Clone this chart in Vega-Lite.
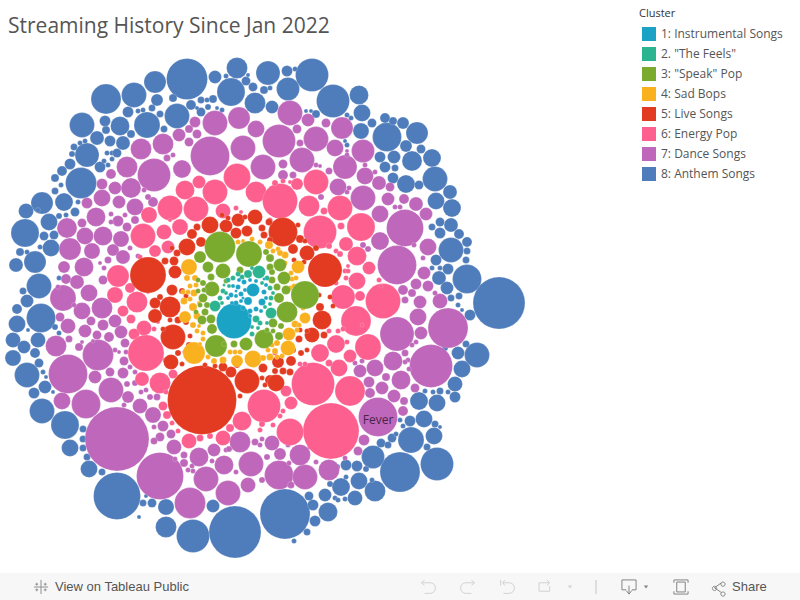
{"$schema":"https://vega.github.io/schema/vega-lite/v6.json","width":800,"height":600,"padding":0,"autosize":"none","background":"white",
"title":{"text":"Streaming History Since Jan 2022","anchor":"start","frame":"group","dx":8,"offset":-37,"fontSize":21,"font":"Open Sans","fontWeight":"normal","color":"#555555"},
"config":{"view":{"stroke":null}},
"datasets":{"chrome":[{"id":1}],"songs":[
{"x":187,"y":79,"d":41,"c":8},{"x":237,"y":68,"d":21,"c":8},{"x":215,"y":77,"d":13,"c":8},{"x":155,"y":82,"d":22,"c":8},{"x":134,"y":95,"d":25,"c":8},{"x":106,"y":99,"d":30,"c":8},{"x":157,"y":100,"d":12,"c":8},{"x":231,"y":92,"d":28,"c":8},{"x":255,"y":103,"d":21,"c":8},{"x":268,"y":73,"d":24,"c":8},{"x":177,"y":116,"d":25,"c":8},{"x":147,"y":125,"d":26,"c":8},{"x":82,"y":125,"d":25,"c":8},{"x":120,"y":126,"d":19,"c":8},{"x":128,"y":112,"d":11,"c":8},{"x":105,"y":121,"d":11,"c":8},{"x":106,"y":130,"d":8,"c":8},{"x":97,"y":138,"d":14,"c":8},{"x":110,"y":141,"d":11,"c":8},{"x":123,"y":143,"d":14,"c":8},{"x":87,"y":155,"d":24,"c":8},{"x":81,"y":183,"d":31,"c":8},{"x":100,"y":167,"d":11,"c":8},{"x":70,"y":164,"d":11,"c":8},{"x":62,"y":171,"d":10,"c":8},{"x":42,"y":203,"d":22,"c":8},{"x":64,"y":202,"d":18,"c":8},{"x":26,"y":211,"d":15,"c":8},{"x":49,"y":222,"d":17,"c":8},{"x":25,"y":233,"d":28,"c":8},{"x":51,"y":248,"d":17,"c":8},{"x":44,"y":236,"d":9,"c":8},{"x":54,"y":235,"d":9,"c":8},{"x":35,"y":262,"d":22,"c":8},{"x":16,"y":265,"d":14,"c":8},{"x":39,"y":286,"d":25,"c":8},{"x":27,"y":301,"d":13,"c":8},{"x":17,"y":309,"d":10,"c":8},{"x":41,"y":318,"d":29,"c":8},{"x":17,"y":324,"d":17,"c":8},{"x":13,"y":340,"d":15,"c":8},{"x":38,"y":340,"d":15,"c":8},{"x":24,"y":347,"d":13,"c":8},{"x":13,"y":358,"d":16,"c":8},{"x":27,"y":375,"d":25,"c":8},{"x":35,"y":353,"d":10,"c":8},{"x":39,"y":363,"d":9,"c":8},{"x":45,"y":387,"d":13,"c":8},{"x":34,"y":393,"d":11,"c":8},{"x":42,"y":411,"d":25,"c":8},{"x":65,"y":425,"d":28,"c":8},{"x":70,"y":448,"d":17,"c":8},{"x":89,"y":469,"d":17,"c":8},{"x":117,"y":496,"d":47,"c":8},{"x":102,"y":472,"d":7,"c":8},{"x":83,"y":439,"d":7,"c":8},{"x":83,"y":429,"d":7,"c":8},{"x":87,"y":457,"d":7,"c":8},{"x":83,"y":448,"d":7,"c":8},{"x":152,"y":503,"d":9,"c":8},{"x":143,"y":503,"d":7,"c":8},{"x":166,"y":507,"d":16,"c":8},{"x":213,"y":506,"d":13,"c":8},{"x":166,"y":527,"d":21,"c":8},{"x":193,"y":536,"d":33,"c":8},{"x":235,"y":532,"d":52,"c":8},{"x":285,"y":514,"d":50,"c":8},{"x":328,"y":512,"d":19,"c":8},{"x":315,"y":521,"d":11,"c":8},{"x":313,"y":505,"d":11,"c":8},{"x":309,"y":496,"d":9,"c":8},{"x":325,"y":495,"d":13,"c":8},{"x":341,"y":487,"d":18,"c":8},{"x":359,"y":481,"d":17,"c":8},{"x":355,"y":498,"d":15,"c":8},{"x":375,"y":491,"d":21,"c":8},{"x":400,"y":472,"d":40,"c":8},{"x":437,"y":464,"d":33,"c":8},{"x":373,"y":457,"d":23,"c":8},{"x":346,"y":465,"d":11,"c":8},{"x":357,"y":466,"d":11,"c":8},{"x":411,"y":440,"d":26,"c":8},{"x":434,"y":436,"d":17,"c":8},{"x":424,"y":419,"d":17,"c":8},{"x":410,"y":421,"d":11,"c":8},{"x":419,"y":401,"d":18,"c":8},{"x":437,"y":403,"d":17,"c":8},{"x":392,"y":438,"d":9,"c":8},{"x":381,"y":443,"d":9,"c":8},{"x":388,"y":445,"d":7,"c":8},{"x":427,"y":447,"d":7,"c":8},{"x":435,"y":424,"d":7,"c":8},{"x":455,"y":397,"d":11,"c":8},{"x":455,"y":384,"d":15,"c":8},{"x":462,"y":369,"d":17,"c":8},{"x":458,"y":353,"d":13,"c":8},{"x":477,"y":355,"d":25,"c":8},{"x":466,"y":344,"d":7,"c":8},{"x":470,"y":315,"d":11,"c":8},{"x":440,"y":391,"d":7,"c":8},{"x":499,"y":303,"d":52,"c":8},{"x":307,"y":532,"d":7,"c":8},{"x":294,"y":541,"d":5,"c":8},{"x":312,"y":75,"d":33,"c":8},{"x":333,"y":101,"d":33,"c":8},{"x":287,"y":71,"d":11,"c":8},{"x":288,"y":89,"d":23,"c":8},{"x":359,"y":95,"d":19,"c":8},{"x":362,"y":113,"d":17,"c":8},{"x":361,"y":131,"d":16,"c":8},{"x":387,"y":137,"d":29,"c":8},{"x":417,"y":133,"d":22,"c":8},{"x":385,"y":118,"d":10,"c":8},{"x":393,"y":121,"d":8,"c":8},{"x":403,"y":123,"d":12,"c":8},{"x":372,"y":123,"d":9,"c":8},{"x":316,"y":114,"d":8,"c":8},{"x":272,"y":107,"d":13,"c":8},{"x":406,"y":146,"d":12,"c":8},{"x":421,"y":149,"d":9,"c":8},{"x":432,"y":158,"d":18,"c":8},{"x":412,"y":161,"d":20,"c":8},{"x":394,"y":157,"d":13,"c":8},{"x":380,"y":157,"d":11,"c":8},{"x":385,"y":167,"d":11,"c":8},{"x":395,"y":168,"d":7,"c":8},{"x":393,"y":178,"d":11,"c":8},{"x":406,"y":184,"d":18,"c":8},{"x":419,"y":185,"d":9,"c":8},{"x":435,"y":179,"d":25,"c":8},{"x":450,"y":192,"d":14,"c":8},{"x":436,"y":201,"d":17,"c":8},{"x":452,"y":208,"d":18,"c":8},{"x":451,"y":225,"d":14,"c":8},{"x":440,"y":222,"d":9,"c":8},{"x":432,"y":227,"d":7,"c":8},{"x":440,"y":233,"d":11,"c":8},{"x":459,"y":234,"d":10,"c":8},{"x":467,"y":242,"d":10,"c":8},{"x":467,"y":251,"d":7,"c":8},{"x":451,"y":250,"d":25,"c":8},{"x":466,"y":260,"d":7,"c":8},{"x":436,"y":260,"d":11,"c":8},{"x":448,"y":269,"d":11,"c":8},{"x":467,"y":279,"d":29,"c":8},{"x":439,"y":278,"d":14,"c":8},{"x":447,"y":288,"d":13,"c":8},{"x":459,"y":296,"d":7,"c":8},{"x":451,"y":298,"d":7,"c":8},{"x":432,"y":268,"d":5,"c":8},{"x":440,"y":268,"d":5,"c":8},{"x":295,"y":69,"d":5,"c":8},{"x":347,"y":145,"d":5,"c":8},{"x":345,"y":141,"d":4,"c":8},{"x":351,"y":118,"d":5,"c":8},{"x":347,"y":115,"d":5,"c":8},{"x":306,"y":111,"d":4,"c":8},{"x":311,"y":111,"d":4,"c":8},{"x":191,"y":105,"d":10,"c":8},{"x":201,"y":112,"d":9,"c":8},{"x":201,"y":100,"d":7,"c":8},{"x":173,"y":98,"d":8,"c":8},{"x":160,"y":114,"d":7,"c":8},{"x":152,"y":108,"d":7,"c":8},{"x":143,"y":110,"d":5,"c":8},{"x":138,"y":111,"d":5,"c":8},{"x":131,"y":134,"d":8,"c":8},{"x":164,"y":129,"d":7,"c":8},{"x":74,"y":147,"d":7,"c":8},{"x":72,"y":154,"d":6,"c":8},{"x":85,"y":141,"d":5,"c":8},{"x":80,"y":143,"d":5,"c":8},{"x":107,"y":153,"d":5,"c":8},{"x":112,"y":153,"d":5,"c":8},{"x":117,"y":153,"d":9,"c":8},{"x":104,"y":161,"d":5,"c":8},{"x":108,"y":165,"d":5,"c":8},{"x":112,"y":159,"d":5,"c":8},{"x":55,"y":178,"d":8,"c":8},{"x":61,"y":185,"d":5,"c":8},{"x":55,"y":191,"d":7,"c":8},{"x":78,"y":202,"d":5,"c":8},{"x":75,"y":212,"d":9,"c":8},{"x":66,"y":215,"d":5,"c":8},{"x":59,"y":216,"d":6,"c":8},{"x":38,"y":210,"d":5,"c":8},{"x":40,"y":247,"d":5,"c":8},{"x":20,"y":252,"d":8,"c":8},{"x":27,"y":252,"d":5,"c":8},{"x":59,"y":278,"d":5,"c":8},{"x":23,"y":291,"d":7,"c":8},{"x":213,"y":99,"d":8,"c":8},{"x":226,"y":76,"d":5,"c":8},{"x":246,"y":81,"d":9,"c":8},{"x":253,"y":87,"d":9,"c":8},{"x":264,"y":90,"d":8,"c":8},{"x":270,"y":88,"d":5,"c":8},{"x":208,"y":107,"d":6,"c":8},{"x":217,"y":108,"d":4,"c":8},{"x":222,"y":110,"d":5,"c":8},{"x":248,"y":75,"d":4,"c":8},{"x":197,"y":108,"d":4,"c":8},{"x":207,"y":100,"d":5,"c":8},{"x":139,"y":517,"d":4,"c":8},{"x":146,"y":496,"d":4,"c":8},{"x":53,"y":392,"d":4,"c":8},{"x":43,"y":372,"d":5,"c":8},{"x":46,"y":377,"d":4,"c":8},{"x":28,"y":330,"d":4,"c":8},{"x":59,"y":333,"d":5,"c":8},{"x":55,"y":327,"d":6,"c":8},{"x":335,"y":498,"d":5,"c":8},{"x":338,"y":500,"d":5,"c":8},{"x":345,"y":499,"d":5,"c":8},{"x":366,"y":469,"d":6,"c":8},{"x":396,"y":434,"d":5,"c":8},{"x":403,"y":426,"d":5,"c":8},{"x":400,"y":420,"d":5,"c":8},{"x":372,"y":480,"d":5,"c":8},{"x":346,"y":477,"d":5,"c":8},{"x":330,"y":484,"d":6,"c":8},{"x":337,"y":467,"d":6,"c":8},{"x":357,"y":452,"d":4,"c":8},{"x":440,"y":427,"d":4,"c":8},{"x":448,"y":392,"d":5,"c":8},{"x":433,"y":392,"d":5,"c":8},{"x":425,"y":391,"d":5,"c":8},{"x":445,"y":348,"d":6,"c":8},{"x":458,"y":305,"d":5,"c":8},{"x":462,"y":310,"d":4,"c":8},
{"x":215,"y":123,"d":25,"c":7},{"x":239,"y":118,"d":22,"c":7},{"x":256,"y":129,"d":17,"c":7},{"x":195,"y":122,"d":11,"c":7},{"x":179,"y":135,"d":13,"c":7},{"x":189,"y":129,"d":8,"c":7},{"x":189,"y":142,"d":9,"c":7},{"x":197,"y":134,"d":9,"c":7},{"x":163,"y":144,"d":21,"c":7},{"x":141,"y":149,"d":21,"c":7},{"x":210,"y":156,"d":39,"c":7},{"x":243,"y":148,"d":25,"c":7},{"x":127,"y":167,"d":21,"c":7},{"x":154,"y":175,"d":33,"c":7},{"x":182,"y":169,"d":18,"c":7},{"x":263,"y":167,"d":25,"c":7},{"x":167,"y":158,"d":7,"c":7},{"x":173,"y":155,"d":5,"c":7},{"x":111,"y":174,"d":10,"c":7},{"x":102,"y":184,"d":11,"c":7},{"x":115,"y":188,"d":13,"c":7},{"x":131,"y":188,"d":20,"c":7},{"x":102,"y":198,"d":17,"c":7},{"x":87,"y":203,"d":11,"c":7},{"x":119,"y":202,"d":13,"c":7},{"x":135,"y":207,"d":17,"c":7},{"x":153,"y":202,"d":10,"c":7},{"x":96,"y":217,"d":19,"c":7},{"x":82,"y":223,"d":9,"c":7},{"x":118,"y":221,"d":11,"c":7},{"x":127,"y":227,"d":9,"c":7},{"x":135,"y":220,"d":8,"c":7},{"x":67,"y":228,"d":20,"c":7},{"x":85,"y":236,"d":17,"c":7},{"x":103,"y":236,"d":19,"c":7},{"x":121,"y":239,"d":16,"c":7},{"x":70,"y":249,"d":22,"c":7},{"x":92,"y":251,"d":16,"c":7},{"x":113,"y":250,"d":12,"c":7},{"x":123,"y":257,"d":14,"c":7},{"x":64,"y":267,"d":12,"c":7},{"x":84,"y":267,"d":19,"c":7},{"x":108,"y":260,"d":7,"c":7},{"x":66,"y":279,"d":10,"c":7},{"x":77,"y":282,"d":14,"c":7},{"x":89,"y":293,"d":17,"c":7},{"x":103,"y":280,"d":9,"c":7},{"x":63,"y":298,"d":26,"c":7},{"x":82,"y":311,"d":17,"c":7},{"x":102,"y":308,"d":21,"c":7},{"x":115,"y":321,"d":13,"c":7},{"x":68,"y":326,"d":15,"c":7},{"x":60,"y":317,"d":9,"c":7},{"x":85,"y":331,"d":13,"c":7},{"x":91,"y":321,"d":9,"c":7},{"x":103,"y":325,"d":11,"c":7},{"x":97,"y":335,"d":9,"c":7},{"x":109,"y":337,"d":10,"c":7},{"x":121,"y":332,"d":13,"c":7},{"x":56,"y":346,"d":21,"c":7},{"x":69,"y":339,"d":7,"c":7},{"x":79,"y":347,"d":8,"c":7},{"x":98,"y":355,"d":31,"c":7},{"x":125,"y":343,"d":9,"c":7},{"x":124,"y":361,"d":9,"c":7},{"x":68,"y":374,"d":39,"c":7},{"x":95,"y":377,"d":13,"c":7},{"x":110,"y":372,"d":9,"c":7},{"x":123,"y":373,"d":11,"c":7},{"x":111,"y":390,"d":25,"c":7},{"x":86,"y":404,"d":29,"c":7},{"x":62,"y":401,"d":17,"c":7},{"x":128,"y":397,"d":12,"c":7},{"x":140,"y":406,"d":15,"c":7},{"x":153,"y":415,"d":16,"c":7},{"x":117,"y":439,"d":64,"c":7},{"x":163,"y":426,"d":11,"c":7},{"x":160,"y":437,"d":9,"c":7},{"x":171,"y":434,"d":9,"c":7},{"x":154,"y":441,"d":7,"c":7},{"x":174,"y":447,"d":15,"c":7},{"x":160,"y":476,"d":47,"c":7},{"x":190,"y":503,"d":31,"c":7},{"x":206,"y":479,"d":25,"c":7},{"x":199,"y":457,"d":19,"c":7},{"x":214,"y":450,"d":13,"c":7},{"x":228,"y":493,"d":25,"c":7},{"x":224,"y":465,"d":19,"c":7},{"x":251,"y":464,"d":25,"c":7},{"x":240,"y":442,"d":21,"c":7},{"x":248,"y":485,"d":15,"c":7},{"x":279,"y":475,"d":29,"c":7},{"x":305,"y":477,"d":25,"c":7},{"x":300,"y":455,"d":21,"c":7},{"x":280,"y":454,"d":12,"c":7},{"x":272,"y":443,"d":15,"c":7},{"x":329,"y":470,"d":21,"c":7},{"x":291,"y":485,"d":7,"c":7},{"x":358,"y":451,"d":9,"c":7},{"x":364,"y":440,"d":11,"c":7},{"x":378,"y":417,"d":39,"c":7,"song":"Fever"},{"x":403,"y":411,"d":10,"c":7},{"x":404,"y":401,"d":8,"c":7},{"x":394,"y":396,"d":13,"c":7},{"x":382,"y":388,"d":13,"c":7},{"x":370,"y":393,"d":10,"c":7},{"x":369,"y":382,"d":11,"c":7},{"x":386,"y":377,"d":8,"c":7},{"x":401,"y":380,"d":19,"c":7},{"x":415,"y":388,"d":9,"c":7},{"x":431,"y":366,"d":43,"c":7},{"x":393,"y":361,"d":19,"c":7},{"x":375,"y":368,"d":17,"c":7},{"x":360,"y":371,"d":13,"c":7},{"x":397,"y":334,"d":34,"c":7},{"x":448,"y":328,"d":40,"c":7},{"x":421,"y":333,"d":13,"c":7},{"x":418,"y":317,"d":17,"c":7},{"x":420,"y":302,"d":13,"c":7},{"x":440,"y":301,"d":15,"c":7},{"x":405,"y":353,"d":7,"c":7},{"x":290,"y":113,"d":25,"c":7},{"x":308,"y":120,"d":13,"c":7},{"x":326,"y":123,"d":9,"c":7},{"x":342,"y":128,"d":22,"c":7},{"x":297,"y":129,"d":9,"c":7},{"x":279,"y":141,"d":33,"c":7},{"x":316,"y":139,"d":25,"c":7},{"x":300,"y":143,"d":7,"c":7},{"x":335,"y":148,"d":17,"c":7},{"x":363,"y":151,"d":23,"c":7},{"x":302,"y":160,"d":25,"c":7},{"x":345,"y":167,"d":24,"c":7},{"x":283,"y":164,"d":9,"c":7},{"x":283,"y":175,"d":10,"c":7},{"x":293,"y":175,"d":7,"c":7},{"x":329,"y":171,"d":7,"c":7},{"x":365,"y":176,"d":17,"c":7},{"x":379,"y":183,"d":14,"c":7},{"x":338,"y":187,"d":17,"c":7},{"x":390,"y":187,"d":9,"c":7},{"x":363,"y":198,"d":25,"c":7},{"x":388,"y":199,"d":13,"c":7},{"x":404,"y":199,"d":10,"c":7},{"x":416,"y":204,"d":14,"c":7},{"x":380,"y":214,"d":17,"c":7},{"x":405,"y":228,"d":37,"c":7},{"x":426,"y":214,"d":13,"c":7},{"x":380,"y":241,"d":18,"c":7},{"x":428,"y":247,"d":17,"c":7},{"x":397,"y":265,"d":39,"c":7},{"x":424,"y":273,"d":13,"c":7},{"x":416,"y":284,"d":11,"c":7},{"x":428,"y":286,"d":11,"c":7},{"x":403,"y":290,"d":10,"c":7},{"x":412,"y":293,"d":8,"c":7},{"x":405,"y":300,"d":7,"c":7},{"x":321,"y":197,"d":6,"c":7},{"x":363,"y":245,"d":6,"c":7},{"x":368,"y":249,"d":6,"c":7},{"x":144,"y":190,"d":5,"c":7},{"x":148,"y":197,"d":6,"c":7},{"x":111,"y":214,"d":5,"c":7},{"x":111,"y":222,"d":5,"c":7},{"x":125,"y":215,"d":5,"c":7},{"x":130,"y":248,"d":5,"c":7},{"x":138,"y":256,"d":5,"c":7},{"x":104,"y":268,"d":5,"c":7},{"x":100,"y":263,"d":4,"c":7},{"x":58,"y":287,"d":5,"c":7},{"x":74,"y":305,"d":5,"c":7},{"x":93,"y":341,"d":4,"c":7},{"x":82,"y":342,"d":4,"c":7},{"x":115,"y":350,"d":5,"c":7},{"x":119,"y":352,"d":4,"c":7},{"x":126,"y":352,"d":5,"c":7},{"x":130,"y":367,"d":5,"c":7},{"x":135,"y":372,"d":5,"c":7},{"x":135,"y":383,"d":6,"c":7},{"x":127,"y":384,"d":6,"c":7},{"x":141,"y":392,"d":5,"c":7},{"x":146,"y":390,"d":5,"c":7},{"x":157,"y":397,"d":7,"c":7},{"x":150,"y":397,"d":6,"c":7},{"x":124,"y":405,"d":5,"c":7},{"x":154,"y":427,"d":5,"c":7},{"x":175,"y":459,"d":5,"c":7},{"x":184,"y":455,"d":7,"c":7},{"x":184,"y":463,"d":8,"c":7},{"x":192,"y":466,"d":5,"c":7},{"x":188,"y":470,"d":5,"c":7},{"x":193,"y":471,"d":5,"c":7},{"x":212,"y":461,"d":5,"c":7},{"x":236,"y":472,"d":5,"c":7},{"x":226,"y":450,"d":5,"c":7},{"x":229,"y":449,"d":6,"c":7},{"x":255,"y":442,"d":7,"c":7},{"x":262,"y":439,"d":5,"c":7},{"x":260,"y":445,"d":5,"c":7},{"x":267,"y":457,"d":6,"c":7},{"x":262,"y":480,"d":6,"c":7},{"x":288,"y":445,"d":5,"c":7},{"x":310,"y":447,"d":5,"c":7},{"x":316,"y":462,"d":5,"c":7},{"x":289,"y":463,"d":5,"c":7},{"x":345,"y":458,"d":5,"c":7},{"x":416,"y":342,"d":5,"c":7},{"x":412,"y":345,"d":5,"c":7},{"x":408,"y":360,"d":5,"c":7},{"x":405,"y":362,"d":5,"c":7},{"x":409,"y":369,"d":5,"c":7},{"x":359,"y":382,"d":4,"c":7},{"x":362,"y":361,"d":5,"c":7},{"x":355,"y":363,"d":5,"c":7},{"x":395,"y":207,"d":5,"c":7},{"x":400,"y":207,"d":5,"c":7},{"x":347,"y":151,"d":4,"c":7},{"x":347,"y":155,"d":5,"c":7},{"x":316,"y":165,"d":5,"c":7},{"x":320,"y":166,"d":4,"c":7},{"x":365,"y":165,"d":5,"c":7},{"x":375,"y":172,"d":5,"c":7},{"x":347,"y":192,"d":5,"c":7},{"x":349,"y":188,"d":5,"c":7},{"x":423,"y":258,"d":5,"c":7},{"x":414,"y":245,"d":5,"c":7},{"x":435,"y":293,"d":5,"c":7},
{"x":237,"y":177,"d":27,"c":6},{"x":256,"y":192,"d":21,"c":6},{"x":215,"y":192,"d":25,"c":6},{"x":199,"y":182,"d":13,"c":6},{"x":185,"y":190,"d":19,"c":6},{"x":223,"y":211,"d":15,"c":6},{"x":196,"y":209,"d":25,"c":6},{"x":170,"y":208,"d":25,"c":6},{"x":149,"y":215,"d":16,"c":6},{"x":143,"y":236,"d":25,"c":6},{"x":180,"y":227,"d":16,"c":6},{"x":164,"y":232,"d":15,"c":6},{"x":168,"y":247,"d":13,"c":6},{"x":155,"y":251,"d":12,"c":6},{"x":118,"y":276,"d":22,"c":6},{"x":115,"y":295,"d":16,"c":6},{"x":137,"y":302,"d":21,"c":6},{"x":130,"y":288,"d":10,"c":6},{"x":123,"y":311,"d":11,"c":6},{"x":131,"y":319,"d":9,"c":6},{"x":144,"y":328,"d":15,"c":6},{"x":134,"y":334,"d":11,"c":6},{"x":146,"y":353,"d":36,"c":6},{"x":142,"y":379,"d":14,"c":6},{"x":160,"y":383,"d":21,"c":6},{"x":173,"y":374,"d":9,"c":6},{"x":163,"y":406,"d":9,"c":6},{"x":167,"y":415,"d":8,"c":6},{"x":189,"y":441,"d":15,"c":6},{"x":223,"y":438,"d":15,"c":6},{"x":242,"y":421,"d":19,"c":6},{"x":264,"y":406,"d":33,"c":6},{"x":230,"y":428,"d":8,"c":6},{"x":313,"y":384,"d":43,"c":6},{"x":331,"y":431,"d":56,"c":6},{"x":350,"y":391,"d":30,"c":6},{"x":290,"y":432,"d":27,"c":6},{"x":291,"y":403,"d":13,"c":6},{"x":286,"y":391,"d":11,"c":6},{"x":339,"y":368,"d":17,"c":6},{"x":320,"y":353,"d":18,"c":6},{"x":336,"y":344,"d":18,"c":6},{"x":350,"y":356,"d":13,"c":6},{"x":368,"y":347,"d":26,"c":6},{"x":356,"y":321,"d":30,"c":6},{"x":383,"y":301,"d":35,"c":6},{"x":343,"y":297,"d":24,"c":6},{"x":357,"y":281,"d":17,"c":6},{"x":360,"y":296,"d":10,"c":6},{"x":357,"y":256,"d":19,"c":6},{"x":369,"y":268,"d":13,"c":6},{"x":346,"y":244,"d":14,"c":6},{"x":361,"y":227,"d":28,"c":6},{"x":340,"y":208,"d":25,"c":6},{"x":320,"y":232,"d":33,"c":6},{"x":309,"y":206,"d":21,"c":6},{"x":316,"y":182,"d":25,"c":6},{"x":297,"y":184,"d":12,"c":6},{"x":280,"y":201,"d":35,"c":6},{"x":324,"y":211,"d":7,"c":6},{"x":341,"y":226,"d":7,"c":6},{"x":275,"y":183,"d":6,"c":6},{"x":283,"y":181,"d":5,"c":6},{"x":290,"y":182,"d":4,"c":6},{"x":336,"y":283,"d":5,"c":6},{"x":345,"y":271,"d":5,"c":6},{"x":348,"y":271,"d":5,"c":6},{"x":346,"y":278,"d":5,"c":6},{"x":348,"y":266,"d":4,"c":6},{"x":329,"y":246,"d":6,"c":6},{"x":336,"y":251,"d":5,"c":6},{"x":340,"y":254,"d":6,"c":6},{"x":140,"y":257,"d":5,"c":6},{"x":148,"y":292,"d":4,"c":6},{"x":154,"y":329,"d":5,"c":6},{"x":158,"y":322,"d":4,"c":6},{"x":165,"y":360,"d":5,"c":6},{"x":166,"y":392,"d":5,"c":6},{"x":172,"y":423,"d":5,"c":6},{"x":178,"y":431,"d":5,"c":6},{"x":200,"y":438,"d":7,"c":6},{"x":210,"y":436,"d":6,"c":6},{"x":260,"y":430,"d":5,"c":6},{"x":262,"y":424,"d":6,"c":6},{"x":280,"y":416,"d":5,"c":6},{"x":283,"y":411,"d":5,"c":6},{"x":275,"y":353,"d":5,"c":6},{"x":329,"y":331,"d":5,"c":6},{"x":338,"y":331,"d":5,"c":6},{"x":343,"y":329,"d":5,"c":6},{"x":347,"y":342,"d":5,"c":6},{"x":329,"y":363,"d":7,"c":6},{"x":305,"y":364,"d":5,"c":6},{"x":300,"y":364,"d":5,"c":6},{"x":273,"y":425,"d":5,"c":6},{"x":362,"y":325,"d":4,"c":6},{"x":379,"y":280,"d":5,"c":6},{"x":381,"y":286,"d":4,"c":6},{"x":270,"y":220,"d":5,"c":6},{"x":236,"y":208,"d":5,"c":6},{"x":241,"y":212,"d":4,"c":6},{"x":170,"y":220,"d":4,"c":6},
{"x":148,"y":275,"d":36,"c":5},{"x":187,"y":247,"d":17,"c":5},{"x":210,"y":225,"d":17,"c":5},{"x":226,"y":226,"d":13,"c":5},{"x":238,"y":220,"d":13,"c":5},{"x":255,"y":217,"d":15,"c":5},{"x":236,"y":233,"d":11,"c":5},{"x":247,"y":231,"d":11,"c":5},{"x":192,"y":234,"d":10,"c":5},{"x":201,"y":242,"d":10,"c":5},{"x":175,"y":272,"d":13,"c":5},{"x":174,"y":261,"d":9,"c":5},{"x":165,"y":261,"d":7,"c":5},{"x":172,"y":290,"d":11,"c":5},{"x":170,"y":307,"d":21,"c":5},{"x":155,"y":316,"d":14,"c":5},{"x":155,"y":303,"d":11,"c":5},{"x":173,"y":337,"d":25,"c":5},{"x":171,"y":362,"d":15,"c":5},{"x":178,"y":353,"d":6,"c":5},{"x":190,"y":336,"d":5,"c":5},{"x":182,"y":364,"d":5,"c":5},{"x":202,"y":400,"d":69,"c":5},{"x":247,"y":381,"d":25,"c":5},{"x":223,"y":367,"d":9,"c":5},{"x":231,"y":372,"d":11,"c":5},{"x":240,"y":396,"d":5,"c":5},{"x":263,"y":368,"d":9,"c":5},{"x":270,"y":380,"d":10,"c":5},{"x":283,"y":232,"d":29,"c":5},{"x":325,"y":270,"d":34,"c":5},{"x":312,"y":335,"d":15,"c":5},{"x":322,"y":320,"d":19,"c":5},{"x":278,"y":362,"d":12,"c":5},{"x":291,"y":361,"d":10,"c":5},{"x":276,"y":383,"d":17,"c":5},{"x":283,"y":371,"d":7,"c":5},{"x":290,"y":372,"d":7,"c":5},{"x":299,"y":339,"d":7,"c":5},{"x":307,"y":350,"d":5,"c":5},{"x":301,"y":353,"d":6,"c":5},{"x":324,"y":335,"d":7,"c":5},{"x":320,"y":307,"d":8,"c":5},{"x":307,"y":253,"d":15,"c":5},{"x":293,"y":249,"d":10,"c":5},{"x":300,"y":239,"d":8,"c":5},{"x":197,"y":227,"d":7,"c":5},{"x":177,"y":253,"d":7,"c":5},{"x":172,"y":248,"d":5,"c":5},{"x":160,"y":297,"d":6,"c":5},{"x":182,"y":291,"d":6,"c":5},{"x":178,"y":320,"d":7,"c":5},{"x":186,"y":322,"d":6,"c":5},{"x":170,"y":320,"d":5,"c":5},{"x":189,"y":345,"d":6,"c":5},{"x":185,"y":352,"d":5,"c":5},{"x":228,"y":218,"d":5,"c":5},{"x":222,"y":215,"d":5,"c":5},{"x":245,"y":217,"d":5,"c":5},{"x":262,"y":228,"d":7,"c":5},{"x":269,"y":222,"d":7,"c":5},{"x":264,"y":235,"d":7,"c":5},{"x":270,"y":240,"d":6,"c":5},{"x":298,"y":225,"d":5,"c":5},{"x":305,"y":241,"d":5,"c":5},{"x":316,"y":248,"d":6,"c":5},{"x":294,"y":260,"d":5,"c":5},{"x":304,"y":262,"d":5,"c":5},{"x":319,"y":295,"d":5,"c":5},{"x":330,"y":297,"d":5,"c":5},{"x":333,"y":306,"d":5,"c":5},{"x":300,"y":330,"d":5,"c":5},{"x":307,"y":331,"d":5,"c":5},{"x":293,"y":350,"d":6,"c":5},{"x":262,"y":378,"d":5,"c":5},{"x":265,"y":385,"d":5,"c":5},{"x":257,"y":362,"d":6,"c":5},{"x":275,"y":371,"d":6,"c":5},{"x":237,"y":365,"d":6,"c":5},{"x":215,"y":366,"d":5,"c":5},{"x":205,"y":365,"d":5,"c":5},{"x":186,"y":296,"d":5,"c":5},{"x":163,"y":329,"d":5,"c":5},
{"x":189,"y":267,"d":16,"c":4},{"x":194,"y":353,"d":22,"c":4},{"x":253,"y":359,"d":17,"c":4},{"x":237,"y":361,"d":12,"c":4},{"x":288,"y":348,"d":15,"c":4},{"x":289,"y":334,"d":13,"c":4},{"x":305,"y":318,"d":11,"c":4},{"x":298,"y":267,"d":13,"c":4},{"x":285,"y":255,"d":7,"c":4},{"x":269,"y":245,"d":8,"c":4},{"x":185,"y":317,"d":12,"c":4},{"x":193,"y":307,"d":8,"c":4},{"x":184,"y":301,"d":7,"c":4},{"x":195,"y":278,"d":6,"c":4},{"x":187,"y":278,"d":6,"c":4},{"x":194,"y":293,"d":7,"c":4},{"x":188,"y":292,"d":5,"c":4},{"x":197,"y":316,"d":7,"c":4},{"x":223,"y":360,"d":7,"c":4},{"x":230,"y":352,"d":5,"c":4},{"x":235,"y":352,"d":5,"c":4},{"x":240,"y":352,"d":5,"c":4},{"x":295,"y":324,"d":7,"c":4},{"x":270,"y":357,"d":7,"c":4},{"x":277,"y":343,"d":6,"c":4},{"x":292,"y":279,"d":5,"c":4},{"x":290,"y":288,"d":5,"c":4},{"x":278,"y":249,"d":5,"c":4},{"x":277,"y":357,"d":5,"c":4},{"x":263,"y":358,"d":6,"c":4},{"x":252,"y":239,"d":5,"c":4},{"x":243,"y":241,"d":4,"c":4},{"x":238,"y":242,"d":5,"c":4},{"x":296,"y":278,"d":5,"c":4},{"x":299,"y":325,"d":5,"c":4},{"x":303,"y":308,"d":5,"c":4},{"x":208,"y":357,"d":5,"c":4},{"x":214,"y":361,"d":6,"c":4},{"x":268,"y":350,"d":5,"c":4},{"x":190,"y":286,"d":5,"c":4},{"x":196,"y":285,"d":5,"c":4},{"x":183,"y":292,"d":5,"c":4},{"x":190,"y":299,"d":5,"c":4},{"x":199,"y":303,"d":4,"c":4},{"x":193,"y":325,"d":6,"c":4},{"x":199,"y":326,"d":4,"c":4},{"x":197,"y":331,"d":5,"c":4},{"x":203,"y":333,"d":5,"c":4},{"x":203,"y":339,"d":5,"c":4},{"x":200,"y":344,"d":4,"c":4},{"x":282,"y":356,"d":5,"c":4},{"x":275,"y":351,"d":6,"c":4},{"x":272,"y":345,"d":5,"c":4},{"x":297,"y":330,"d":5,"c":4},{"x":280,"y":253,"d":6,"c":4},{"x":285,"y":263,"d":5,"c":4},{"x":291,"y":273,"d":5,"c":4},{"x":294,"y":286,"d":5,"c":4},{"x":293,"y":293,"d":4,"c":4},{"x":273,"y":251,"d":5,"c":4},{"x":260,"y":242,"d":5,"c":4},
{"x":220,"y":247,"d":31,"c":3},{"x":249,"y":254,"d":26,"c":3},{"x":305,"y":295,"d":28,"c":3},{"x":287,"y":312,"d":21,"c":3},{"x":264,"y":339,"d":19,"c":3},{"x":216,"y":346,"d":22,"c":3},{"x":246,"y":344,"d":13,"c":3},{"x":223,"y":271,"d":15,"c":3},{"x":208,"y":267,"d":11,"c":3},{"x":200,"y":257,"d":12,"c":3},{"x":212,"y":289,"d":15,"c":3},{"x":280,"y":265,"d":13,"c":3},{"x":284,"y":278,"d":13,"c":3},{"x":270,"y":258,"d":8,"c":3},{"x":277,"y":287,"d":7,"c":3},{"x":286,"y":290,"d":9,"c":3},{"x":279,"y":298,"d":10,"c":3},{"x":240,"y":270,"d":7,"c":3},{"x":272,"y":280,"d":7,"c":3},{"x":211,"y":277,"d":7,"c":3},{"x":203,"y":298,"d":9,"c":3},{"x":205,"y":312,"d":7,"c":3},{"x":211,"y":319,"d":9,"c":3},{"x":202,"y":320,"d":9,"c":3},{"x":212,"y":329,"d":10,"c":3},{"x":273,"y":323,"d":9,"c":3},{"x":279,"y":336,"d":8,"c":3},{"x":234,"y":344,"d":7,"c":3},{"x":266,"y":252,"d":6,"c":3},{"x":270,"y":267,"d":7,"c":3},{"x":281,"y":326,"d":6,"c":3},{"x":204,"y":290,"d":5,"c":3},{"x":200,"y":305,"d":5,"c":3},{"x":198,"y":280,"d":5,"c":3},{"x":226,"y":281,"d":5,"c":3},{"x":267,"y":330,"d":5,"c":3},{"x":203,"y":283,"d":6,"c":3},{"x":198,"y":291,"d":5,"c":3},{"x":207,"y":305,"d":6,"c":3},{"x":272,"y":272,"d":6,"c":3},{"x":273,"y":331,"d":5,"c":3},{"x":196,"y":312,"d":5,"c":3},{"x":224,"y":344,"d":5,"c":3},
{"x":259,"y":272,"d":13,"c":2},{"x":271,"y":313,"d":11,"c":2},{"x":215,"y":306,"d":11,"c":2},{"x":248,"y":274,"d":8,"c":2},{"x":256,"y":319,"d":7,"c":2},{"x":242,"y":277,"d":5,"c":2},{"x":233,"y":278,"d":5,"c":2},{"x":228,"y":280,"d":5,"c":2},{"x":223,"y":291,"d":5,"c":2},{"x":220,"y":298,"d":5,"c":2},{"x":229,"y":286,"d":4,"c":2},{"x":224,"y":285,"d":3,"c":2},{"x":226,"y":293,"d":4,"c":2},{"x":270,"y":288,"d":5,"c":2},{"x":271,"y":298,"d":5,"c":2},{"x":265,"y":307,"d":4,"c":2},{"x":267,"y":323,"d":4,"c":2},{"x":260,"y":323,"d":5,"c":2},{"x":252,"y":334,"d":5,"c":2},{"x":252,"y":268,"d":4,"c":2},{"x":262,"y":283,"d":4,"c":2},{"x":270,"y":304,"d":4,"c":2},{"x":238,"y":274,"d":5,"c":2},{"x":267,"y":278,"d":5,"c":2},{"x":273,"y":293,"d":4,"c":2},{"x":258,"y":328,"d":4,"c":2},{"x":252,"y":327,"d":4,"c":2},{"x":222,"y":303,"d":4,"c":2},
{"x":234,"y":321,"d":35,"c":1},{"x":253,"y":290,"d":13,"c":1},{"x":262,"y":302,"d":7,"c":1},{"x":248,"y":301,"d":8,"c":1},{"x":238,"y":287,"d":5,"c":1},{"x":231,"y":295,"d":5,"c":1},{"x":236,"y":296,"d":4,"c":1},{"x":241,"y":294,"d":5,"c":1},{"x":233,"y":286,"d":4,"c":1},{"x":244,"y":282,"d":5,"c":1},{"x":250,"y":280,"d":4,"c":1},{"x":256,"y":281,"d":4,"c":1},{"x":236,"y":303,"d":5,"c":1},{"x":241,"y":301,"d":4,"c":1},{"x":256,"y":309,"d":5,"c":1},{"x":250,"y":311,"d":5,"c":1},{"x":264,"y":292,"d":5,"c":1},{"x":264,"y":279,"d":3,"c":1},{"x":245,"y":290,"d":4,"c":1},{"x":239,"y":280,"d":4,"c":1},{"x":228,"y":298,"d":4,"c":1},{"x":232,"y":303,"d":4,"c":1},{"x":243,"y":308,"d":5,"c":1},{"x":261,"y":311,"d":4,"c":1},{"x":266,"y":298,"d":4,"c":1},{"x":266,"y":285,"d":4,"c":1},{"x":236,"y":291,"d":3,"c":1},{"x":250,"y":316,"d":4,"c":1},{"x":243,"y":298,"d":3,"c":1}
]},
"data":{"name":"chrome"},
"layer":[
{"mark":{"type":"rect","color":"#f7f7f7"},"encoding":{"x":{"datum":0,"type":"quantitative","scale":{"domain":[0,800],"nice":false,"zero":false},"axis":null},"x2":{"datum":800},"y":{"datum":573,"type":"quantitative","scale":{"domain":[600,0],"nice":false,"zero":false},"axis":null},"y2":{"datum":600}}},
{"data":{"name":"songs"},"mark":{"type":"circle","opacity":1,"stroke":"#ffffff","strokeWidth":0.5,"strokeOpacity":0.35},
"encoding":{
"x":{"field":"x","type":"quantitative"},
"y":{"field":"y","type":"quantitative"},
"size":{"field":"d","type":"quantitative","scale":{"type":"pow","exponent":2,"domain":[0,100],"range":[0,10000]},"legend":null},
"color":{"field":"c","type":"ordinal","scale":{"domain":[1,2,3,4,5,6,7,8],"range":["#1ba3c6","#2cb491","#7aab2e","#fab11f","#e33a22","#fd5f8e","#bf68bb","#4f7cba"]},
"legend":{"title":"Cluster","orient":"none","legendX":639,"legendY":8,"symbolType":"square","symbolSize":196,"symbolOffset":3,"symbolStrokeWidth":0,"symbolOpacity":1,"rowPadding":6,"labelOffset":5,"titleFont":"Open Sans","titleFontSize":11,"titleFontWeight":"normal","titleColor":"#333333","titlePadding":8,"labelFont":"Open Sans","labelFontSize":12,"labelColor":"#555555","labelLimit":170,
"labelExpr":"['','1: Instrumental Songs','2. \"The Feels\"','3: \"Speak\" Pop','4: Sad Bops','5: Live Songs','6: Energy Pop','7: Dance Songs','8: Anthem Songs'][datum.value]"}}}},
{"data":{"name":"songs"},"transform":[{"filter":"datum.song"}],"mark":{"type":"text","font":"Open Sans","fontSize":12,"color":"#4a2448","dy":3},"encoding":{"x":{"field":"x","type":"quantitative"},"y":{"field":"y","type":"quantitative"},"text":{"field":"song"}}},
{"mark":{"type":"text","font":"Liberation Sans","fontSize":13,"color":"#555555","align":"left","baseline":"middle","text":"View on Tableau Public"},"encoding":{"x":{"datum":55},"y":{"datum":587}}},
{"mark":{"type":"text","font":"Liberation Sans","fontSize":13,"color":"#555555","align":"left","baseline":"middle","text":"Share"},"encoding":{"x":{"datum":732},"y":{"datum":587}}},
{"mark":{"type":"point","filled":false,"size":200,"color":"#666666","strokeWidth":1,"shape":"M0,-1V1M-1,0H1M-0.6,-0.6V-0.2M-0.8,-0.4H-0.4M0.6,-0.6V-0.2M0.8,-0.4H0.4M-0.6,0.6V0.2M-0.8,0.4H-0.4M0.6,0.6V0.2M0.8,0.4H0.4"},"encoding":{"x":{"datum":41},"y":{"datum":587}}},
{"mark":{"type":"point","filled":false,"size":200,"color":"#c4c4c4","strokeWidth":1,"shape":"M-0.9,-0.6H0.3A0.7,0.7 0 0 1 0.3,0.9H-0.5M-0.9,-0.6L-0.5,-1M-0.9,-0.6L-0.5,-0.2"},"encoding":{"x":{"datum":428},"y":{"datum":587}}},
{"mark":{"type":"point","filled":false,"size":200,"color":"#c4c4c4","strokeWidth":1,"shape":"M0.9,-0.6H-0.3A0.7,0.7 0 0 0 -0.3,0.9H0.5M0.9,-0.6L0.5,-1M0.9,-0.6L0.5,-0.2"},"encoding":{"x":{"datum":468},"y":{"datum":587}}},
{"mark":{"type":"point","filled":false,"size":200,"color":"#c4c4c4","strokeWidth":1,"shape":"M-0.9,-1V-0.2M-0.6,-0.6H0.3A0.7,0.7 0 0 1 0.3,0.9H-0.5M-0.6,-0.6L-0.3,-1M-0.6,-0.6L-0.3,-0.2"},"encoding":{"x":{"datum":507},"y":{"datum":587}}},
{"mark":{"type":"point","filled":false,"size":200,"color":"#c4c4c4","strokeWidth":1,"shape":"M0.8,-0.6H-0.7V0.6H0.8V-0.1M0.8,-0.6L0.4,-1M0.8,-0.6L0.4,-0.2"},"encoding":{"x":{"datum":544},"y":{"datum":587}}},
{"mark":{"type":"point","filled":true,"size":20,"color":"#c4c4c4","shape":"M-1,-0.7H1L0,0.7Z"},"encoding":{"x":{"datum":570},"y":{"datum":587}}},
{"mark":{"type":"rule","color":"#c4c4c4"},"encoding":{"x":{"datum":596},"y":{"datum":580},"y2":{"datum":594}}},
{"mark":{"type":"point","filled":false,"size":200,"color":"#555555","strokeWidth":1,"shape":"M-1,0.4V-1H1V0.4H0.4M-0.4,0.4H-1M0,-0.2V1M-0.4,0.5L0,1L0.4,0.5"},"encoding":{"x":{"datum":629},"y":{"datum":587}}},
{"mark":{"type":"point","filled":true,"size":20,"color":"#555555","shape":"M-1,-0.7H1L0,0.7Z"},"encoding":{"x":{"datum":646},"y":{"datum":587}}},
{"mark":{"type":"point","filled":false,"size":200,"color":"#555555","strokeWidth":1,"shape":"M-0.6,-0.7H0.6V0.7H-0.6ZM-1,-0.6V-1H1V-0.6M-1,0.6V1H1V0.6"},"encoding":{"x":{"datum":681},"y":{"datum":587}}},
{"mark":{"type":"point","filled":false,"size":200,"color":"#555555","strokeWidth":1,"shape":"M-0.5,0.1L0.5,-0.6M-0.5,0.1L0.5,0.8M-0.5,-0.1A0.3,0.3 0 1 0 -0.49,-0.1M0.7,-0.7A0.3,0.3 0 1 0 0.71,-0.7M0.7,0.7A0.3,0.3 0 1 0 0.71,0.7"},"encoding":{"x":{"datum":718},"y":{"datum":587}}}
]}
